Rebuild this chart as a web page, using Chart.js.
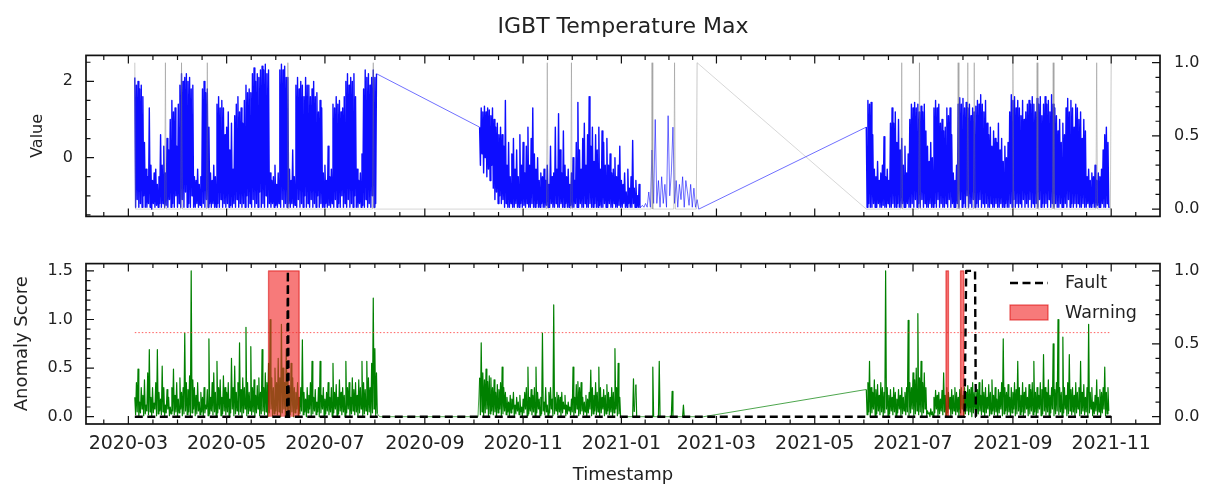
<!DOCTYPE html>
<html><head><meta charset="utf-8">
<script src="https://cdn.jsdelivr.net/npm/chart.js@4/dist/chart.umd.min.js"></script>
<style>
html,body{margin:0;padding:0;background:#fff;}
#wrap{position:relative;width:1205px;height:486px;overflow:hidden;background:#fff;}
canvas{position:absolute;left:0;}
#c1{top:0;} #c2{top:240px;}
</style></head><body>
<div id="wrap"><canvas id="c1" width="1205" height="240"></canvas><canvas id="c2" width="1205" height="246"></canvas></div>
<script>
// ---------------- DATA ----------------
const xTickLabels = ['2020-03','2020-05','2020-07','2020-09','2020-11','2021-01','2021-03','2021-05','2021-07','2021-09','2021-11'];
const valueTicks = [0, 2];
const probTicks = [0, 0.5, 1.0];
const scoreTicks = [0, 0.5, 1.0, 1.5];

// Top panel: blue "Value" series, sampled every half day
const blueStartA = '2020-03-05';
const blueA = [
2.1,-1.3,1.9,-1.1,2.0,-1.3,1.8,-1.2,1.9,-1.3,1.6,-1.0,0.4,-1.3,-0.3,-1.3,-0.5,-1.2,1.3,-1.3,
-0.2,-1.35,-0.6,-1.2,-0.4,-1.3,-0.3,-1.25,-0.7,-1.3,-0.5,-1.2,0.6,-1.3,-0.2,-1.2,0.3,-1.3,-0.4,-1.25,
0.5,-1.3,0.2,-1.1,1.0,-1.3,1.5,-1.2,1.2,-1.3,1.3,-1.0,0.3,-1.3,1.4,-1.2,1.9,-1.3,2.2,-1.1,
2.0,-1.3,2.1,-0.9,2.2,-1.3,2.0,-1.2,2.1,-1.3,1.8,-1.0,1.9,-1.3,-0.5,-1.3,-0.6,-1.2,-0.3,-1.3,
-0.7,-1.25,-0.5,-1.3,1.8,-1.2,2.0,-1.3,1.7,-1.1,1.8,-1.3,0.8,-1.2,-0.4,-1.3,-0.6,-1.2,-0.2,-1.3,
-0.5,-1.3,1.4,-1.2,1.6,-1.3,1.3,-1.1,1.5,-1.3,1.3,-1.2,0.6,-1.3,0.8,-1.2,1.2,-1.3,0.2,-1.25,
0.9,-1.3,-0.3,-1.2,1.1,-1.3,1.4,-1.1,1.6,-1.3,1.2,-1.2,1.3,-1.3,0.9,-1.2,1.5,-1.3,1.9,-1.0,
1.7,-1.3,1.8,-1.2,1.7,-1.3,2.2,-1.1,2.35,-1.3,2.0,-1.2,2.2,-1.3,2.1,-0.9,2.3,-1.3,2.4,-1.2,
2.3,-1.3,2.45,-1.0,2.2,-1.3,2.3,-1.2,-0.4,-1.3,-0.6,-1.2,-0.5,-1.3,-0.2,-1.25,-0.7,-1.3,-0.4,-1.2,
2.3,-1.3,2.45,-1.1,2.3,-1.3,2.4,-1.2,2.1,-1.3,2.1,-1.2,-0.3,-1.3,-0.6,-1.2,0.2,-1.3,-0.5,-1.25,
1.9,-1.3,2.1,-1.1,1.8,-1.3,2.0,-1.2,1.9,-1.3,1.6,-1.0,2.1,-1.3,1.9,-1.2,1.9,-1.3,1.6,-1.1,
1.8,-1.3,2.0,-1.2,1.6,-1.3,1.7,-1.0,1.2,-1.3,1.5,-1.2,1.3,-1.3,-0.4,-1.3,-0.2,-1.2,-0.6,-1.3,
0.3,-1.25,-0.5,-1.3,-0.3,-1.2,1.4,-1.3,1.3,-1.1,1.6,-1.3,1.4,-1.2,1.5,-1.3,1.2,-1.0,1.3,-1.3,
1.6,-1.2,2.0,-1.3,2.2,-1.1,1.9,-1.3,2.1,-1.2,2.0,-1.3,2.2,-1.0,1.6,-1.3,-0.3,-1.3,-0.6,-1.2,
-0.4,-1.3,0.1,-1.25,1.8,-1.3,2.3,-1.1,2.1,-1.3,2.2,-1.2,1.9,-1.3,2.1,-1.0,2.3,-1.3,2.1,-1.2,
2.2];
const blueStartB = '2020-10-05';
const blueB = [
0.8,-0.2,1.3,0.1,1.2,-0.4,1.35,0.0,1.2,-0.5,1.3,-0.3,1.25,-0.6,1.1,-0.2,1.3,-0.8,1.0,-1.1,
0.8,-0.9,0.9,-1.2,0.6,-1.0,0.8,-1.2,0.6,-1.1,0.3,-1.3,1.5,-1.2,-0.2,-1.3,0.4,-1.3,-0.5,-1.2,
0.1,-1.3,0.5,-1.3,-0.3,-1.2,0.2,-1.3,-0.5,-1.3,0.6,-1.2,-0.2,-1.3,0.4,-1.25,-0.4,-1.3,0.3,-1.2,
0.8,-1.3,-0.2,-1.3,0.5,-1.2,1.3,-1.3,0.1,-1.3,-0.3,-1.2,0.0,-1.3,-0.6,-1.3,-0.4,-1.2,-0.5,-1.3,
-0.3,-1.3,-0.6,-1.25,-0.2,-1.3,-0.7,-1.3,0.3,-1.2,-0.5,-1.3,-0.4,-1.3,0.8,-1.2,-0.3,-1.3,1.15,-1.3,
0.2,-1.2,-0.4,-1.3,0.7,-1.3,-0.2,-1.2,-0.5,-1.3,-0.3,-1.3,-0.7,-1.25,-0.4,-1.3,0.0,-1.3,-0.6,-1.2,
0.4,-1.3,1.45,-1.3,0.2,-1.2,-0.3,-1.3,0.5,-1.3,0.9,-1.2,-0.2,-1.3,0.6,-1.3,1.6,-1.2,0.3,-1.3,
0.8,-1.3,-0.1,-1.2,0.6,-1.3,0.2,-1.3,0.8,-1.25,-0.3,-1.3,0.7,-1.3,0.4,-1.2,-0.2,-1.3,0.5,-1.3,
-0.2,-1.2,0.1,-1.3,-0.4,-1.3,-0.3,-1.2,0.0,-1.3,-0.5,-1.3,-0.2,-1.25,0.3,-1.3,-0.6,-1.3,-0.7,-1.2,
-0.4,-1.3,-0.9,-1.3,-0.3,-1.2,-0.8,-1.3,-0.5,-1.3,0.45,-1.2,-0.8,-1.3,-0.6,-1.3,-1.0,-1.3,-0.7,-1.3];
// sparse part at the end of the second block, one sample per day
const blueStartB2 = '2021-01-13';
const blueB2 = [-1.3,-1.25,-1.3,-1.2,-1.3,-0.9,-1.3,0.2,-1.2,1.0,-1.2,-0.6,-1.3,-0.5,-1.2,-0.7,-1.3,1.1,-1.0,-0.4,
0.8,-1.2,-0.6,-1.3,-0.7,-1.1,-0.5,-1.3,-0.6,-0.9,-1.25,-0.7,-1.3,-0.8,-1.3,-1.1,-1.35];
const blueStartC = '2021-06-02';
const blueC = [
0.8,-1.3,1.5,-1.2,1.4,-1.3,1.45,-1.3,0.6,-1.2,-0.3,-1.3,-0.5,-1.3,-0.1,-1.2,-0.6,-1.3,-0.4,-1.3,
-0.2,-1.25,0.55,-1.3,-0.5,-1.3,-0.3,-1.2,-0.6,-1.3,0.9,-1.3,1.3,-1.2,0.9,-1.3,1.2,-1.3,0.4,-1.2,
1.0,-1.3,0.2,-1.3,0.5,-1.2,-0.2,-1.3,0.3,-1.3,-0.4,-1.2,0.1,-1.3,1.0,-1.3,1.4,-1.2,1.3,-1.3,
1.45,-1.1,1.3,-1.3,1.4,-1.2,1.2,-1.3,1.35,-1.1,1.2,-1.3,1.4,-1.2,0.7,-1.3,0.3,-1.3,-0.1,-1.2,
0.4,-1.3,0.0,-1.3,1.3,-1.2,1.5,-1.3,1.3,-1.1,1.4,-1.3,0.9,-1.2,1.0,-1.3,0.7,-1.3,0.8,-1.2,
1.3,-1.3,1.1,-1.1,1.3,-1.3,0.6,-1.2,-0.4,-1.3,-0.6,-1.3,-0.2,-1.2,1.4,-1.3,1.57,-1.1,1.4,-1.3,
1.55,-1.2,1.3,-1.3,1.45,-1.0,1.3,-1.3,1.4,-1.2,1.1,-1.3,1.3,-1.1,1.2,-1.3,1.35,-1.2,1.5,-1.3,
1.4,-1.1,1.65,-1.3,1.4,-1.2,1.2,-1.3,1.5,-1.2,0.9,-1.3,0.6,-1.3,0.8,-1.2,0.3,-1.3,0.7,-1.3,
0.5,-1.2,0.4,-1.3,0.9,-1.3,0.2,-1.2,0.5,-1.3,-0.1,-1.3,0.3,-1.2,0.0,-1.3,0.4,-1.3,1.2,-1.2,
1.65,-1.3,1.5,-1.1,1.6,-1.3,1.3,-1.2,1.5,-1.3,1.3,-1.2,1.1,-1.3,1.5,-1.1,1.0,-1.3,1.2,-1.2,
1.4,-1.3,1.5,-1.1,1.4,-1.3,1.6,-1.2,1.4,-1.3,1.2,-1.2,1.55,-1.3,1.4,-1.1,1.6,-1.3,1.1,-1.2,
1.4,-1.3,1.6,-1.2,1.4,-1.3,1.5,-1.1,1.2,-1.3,1.65,-1.2,1.4,-1.3,1.3,-1.2,1.1,-1.3,0.7,-1.3,
1.0,-1.2,0.4,-1.3,0.9,-1.3,0.6,-1.2,1.3,-1.3,1.55,-1.1,1.2,-1.3,1.5,-1.2,1.3,-1.3,0.8,-1.2,
1.4,-1.3,1.3,-1.2,1.0,-1.3,1.2,-1.3,0.5,-1.2,1.0,-1.3,0.7,-1.3,-0.5,-1.2,-0.3,-1.3,-0.6,-1.3,
-0.4,-1.2,-0.5,-1.3,-0.2,-1.3,-0.6,-1.25,-0.4,-1.3,-0.5,-1.3,-0.3,-1.2,0.2,-1.3,0.6,-1.3,0.8,-1.2,
0.4,-1.3,-1.3];

// Top panel, right axis: grey label series (0 / 1)
const grayDates = ['2020-03-05','2020-03-05T12','2020-03-23T12','2020-03-24','2020-03-24T12','2020-04-02T12','2020-04-03','2020-04-03T12',
'2020-04-18T12','2020-04-19','2020-04-19T12','2020-06-07T12','2020-06-08','2020-06-08T12','2020-07-30T12','2020-07-31','2020-07-31T12',
'2020-11-15T12','2020-11-16','2020-11-16T12','2020-11-30T12','2020-12-01','2020-12-01T12','2021-01-19T12','2021-01-20','2021-01-20T12',
'2021-02-02T12','2021-02-03','2021-02-03T12','2021-02-16T12','2021-02-17','2021-06-02','2021-06-23T12','2021-06-24','2021-06-24T12',
'2021-07-04T12','2021-07-05','2021-07-05T12','2021-07-28T12','2021-07-29','2021-07-29T12','2021-08-03T12','2021-08-04','2021-08-04T12',
'2021-08-07T12','2021-08-08','2021-08-08T12','2021-08-31T12','2021-09-01','2021-09-01T12','2021-09-15T12','2021-09-16','2021-09-16T12',
'2021-09-25T12','2021-09-26','2021-09-26T12','2021-10-22T12','2021-10-23','2021-10-23T12','2021-10-31T12','2021-11-01'];
const grayValues = [1,0, 0,1,0, 0,1,0, 0,1,0, 0,1,0, 0,1,0,
0,1,0, 0,1,0, 0,1,0, 0,1,0, 0,1, 0, 0,1,0,
0,1,0, 0,1,0, 0,1,0, 0,1,0, 0,1,0, 0,1,0, 0,1,0, 0,1,0, 0,1];

// Bottom panel: green anomaly score, sampled every half day
const greenStartA = '2020-03-05';
const greenA = [
0.2,0.02,0.35,0.05,0.49,0.0,0.15,0.04,0.3,0.08,0.22,0.01,0.38,0.03,0.12,0.06,0.45,0.02,0.69,0.05,
0.2,0.0,0.3,0.04,0.14,0.08,0.35,0.01,0.69,0.03,0.25,0.06,0.18,0.02,0.52,0.05,0.3,0.0,0.12,0.04,
0.28,0.08,0.2,0.01,0.1,0.03,0.3,0.06,0.49,0.02,0.22,0.05,0.35,0.0,0.18,0.04,0.4,0.08,0.25,0.01,
0.3,0.03,0.86,0.06,0.35,0.02,0.28,0.05,0.42,0.0,1.5,0.04,0.38,0.08,0.3,0.01,0.22,0.03,0.35,0.06,
0.15,0.02,0.25,0.05,0.2,0.0,0.3,0.04,0.12,0.08,0.28,0.01,0.8,0.03,0.2,0.06,0.35,0.02,0.45,0.05,
0.25,0.0,0.57,0.04,0.3,0.08,0.38,0.01,0.2,0.03,0.42,0.06,0.3,0.02,0.25,0.05,0.35,0.0,0.18,0.04,
0.6,0.08,0.3,0.01,0.52,0.03,0.25,0.06,0.35,0.02,0.76,0.05,0.28,0.0,0.4,0.04,0.3,0.08,0.92,0.01,
0.35,0.03,0.25,0.06,0.72,0.02,0.3,0.05,0.38,0.0,0.22,0.04,0.32,0.08,0.4,0.01,0.25,0.03,0.69,0.06,
0.3,0.02,0.45,0.05,0.35,0.0,0.55,0.04,1.0,0.08,0.4,0.01,0.3,0.03,0.5,0.06,0.35,0.02,0.6,0.05,
0.4,0.0,0.95,0.04,0.5,0.08,0.35,0.01,0.7,0.03,0.45,0.06,0.3,0.02,0.55,0.05,0.4,0.0,0.3,0.04,
0.25,0.08,0.35,0.01,0.2,0.03,0.3,0.06,0.79,0.02,0.25,0.05,0.18,0.0,0.3,0.04,0.22,0.08,0.35,0.01,
0.57,0.03,0.2,0.06,0.28,0.02,0.15,0.05,0.3,0.0,0.57,0.04,0.22,0.08,0.3,0.01,0.18,0.03,0.25,0.06,
0.35,0.02,0.2,0.05,0.3,0.0,0.55,0.04,0.25,0.08,0.33,0.01,0.2,0.03,0.38,0.06,0.25,0.02,0.3,0.05,
0.22,0.0,0.57,0.04,0.3,0.08,0.35,0.01,0.2,0.03,0.4,0.06,0.28,0.02,0.35,0.05,0.22,0.0,0.38,0.04,
0.3,0.08,0.57,0.01,0.35,0.03,0.28,0.06,0.57,0.02,0.4,0.05,0.3,0.0,0.55,0.04,1.22,0.08,0.7,0.01,
0.45,0.03];
const greenGapDates = ['2020-08-04','2020-10-04'];
const greenGapValues = [0, 0];
const greenStartB = '2020-10-05';
const greenB = [
0.4,0.02,0.76,0.05,0.45,0.0,0.38,0.04,0.49,0.08,0.36,0.01,0.42,0.03,0.4,0.06,0.3,0.02,0.38,0.05,
0.25,0.0,0.33,0.04,0.28,0.08,0.35,0.01,0.51,0.03,0.3,0.06,0.25,0.02,0.2,0.05,0.15,0.0,0.22,0.04,
0.18,0.08,0.25,0.01,0.12,0.03,0.2,0.06,0.15,0.02,0.22,0.05,0.1,0.0,0.18,0.04,0.25,0.08,0.3,0.01,
0.51,0.03,0.2,0.06,0.28,0.02,0.22,0.05,0.3,0.0,0.51,0.04,0.25,0.08,0.18,0.01,0.2,0.03,0.86,0.06,
0.15,0.02,0.3,0.05,0.12,0.0,0.25,0.04,0.3,0.08,0.18,0.01,1.15,0.03,0.2,0.06,0.25,0.02,0.22,0.05,
0.2,0.0,0.25,0.04,0.15,0.08,0.22,0.01,0.12,0.03,0.15,0.06,0.1,0.02,0.18,0.05,0.51,0.0,0.2,0.04,
0.33,0.08,0.36,0.01,0.3,0.03,0.35,0.06,0.2,0.02,0.15,0.05,0.22,0.0,0.18,0.04,0.25,0.08,0.48,0.01,
0.3,0.03,0.22,0.06,0.35,0.02,0.25,0.05,0.51,0.0,0.3,0.04,0.2,0.08,0.28,0.01,0.22,0.03,0.33,0.06,
0.25,0.02,0.2,0.05,0.3,0.0,0.25,0.04,0.7,0.08,0.3,0.01,0.55,0.03,0.2,0.0];
const greenSparseDates = ['2021-01-01','2021-01-08','2021-01-08T12','2021-01-09','2021-01-10','2021-01-10T12','2021-01-20','2021-01-20T12','2021-01-21',
'2021-01-24','2021-01-24T12','2021-01-25','2021-02-01','2021-02-01T12','2021-02-02','2021-02-08','2021-02-08T12','2021-02-09','2021-02-21'];
const greenSparseValues = [0,0,0.39,0.05,0.33,0,0,0.51,0,0,0.57,0,0,0.26,0,0,0.12,0,0];
const greenStartC = '2021-06-02';
const greenC = [
0.28,0.02,0.35,0.05,0.57,0.0,0.3,0.04,0.25,0.08,0.38,0.01,0.28,0.03,0.33,0.06,0.22,0.02,0.35,0.05,
0.3,0.0,0.25,0.04,1.5,0.08,0.3,0.01,0.22,0.03,0.28,0.06,0.2,0.02,0.3,0.05,0.25,0.0,0.18,0.04,
0.28,0.08,0.22,0.01,0.3,0.03,0.2,0.06,0.25,0.02,0.3,0.05,0.99,0.0,0.35,0.04,0.3,0.08,0.45,0.01,
0.38,0.03,0.5,0.06,1.06,0.02,0.4,0.05,0.57,0.0,0.35,0.04,0.45,0.08,0.3,0.01,0.06,0.03,0.04,0.0,
0.08,0.02,0.05,0.0,0.2,0.04,0.27,0.08,0.22,0.01,0.25,0.03,0.18,0.06,0.27,0.02,0.45,0.05,0.22,0.0,
0.3,0.04,0.25,0.08,0.2,0.01,0.28,0.03,0.22,0.06,0.3,0.02,0.25,0.05,0.2,0.0,0.28,0.04,0.3,0.08,
0.22,0.01,0.3,0.03,0.25,0.06,0.32,0.02,0.28,0.05,0.3,0.0,0.35,0.04,0.25,0.08,0.3,0.01,0.28,0.03,
0.35,0.06,0.22,0.02,0.38,0.05,0.25,0.0,0.3,0.04,0.2,0.08,0.33,0.01,0.25,0.03,0.38,0.06,0.22,0.02,
0.3,0.05,0.18,0.0,0.28,0.04,0.25,0.08,0.35,0.01,0.8,0.03,0.3,0.06,0.25,0.02,0.33,0.05,0.2,0.0,
0.3,0.04,0.25,0.08,0.35,0.01,0.28,0.03,0.57,0.06,0.3,0.02,0.22,0.05,0.35,0.0,0.25,0.04,0.3,0.08,
0.2,0.01,0.33,0.03,0.28,0.06,0.35,0.02,0.57,0.05,0.25,0.0,0.3,0.04,0.22,0.08,0.35,0.01,0.28,0.03,
0.64,0.06,0.3,0.02,0.25,0.05,0.38,0.0,0.22,0.04,0.3,0.08,0.75,0.01,0.28,0.03,0.35,0.06,1.0,0.02,
0.3,0.05,0.25,0.0,0.82,0.04,0.3,0.08,0.22,0.01,0.35,0.03,0.64,0.06,0.28,0.02,0.3,0.05,0.22,0.0,
0.35,0.04,0.25,0.08,0.3,0.01,0.57,0.03,0.25,0.06,0.33,0.02,0.2,0.05,0.3,0.0,0.95,0.04,0.25,0.08,
0.3,0.01,0.15,0.03,0.22,0.06,0.38,0.02,0.2,0.05,0.28,0.0,0.25,0.04,0.3,0.08,0.51,0.01,0.25,0.03,
0.3,0.06];

const thresholdDates = ['2020-03-05','2021-11-01'];
const thresholdValues = [0.865, 0.865];

const faultDates = ['2020-03-05','2020-06-07T12','2020-06-08','2020-06-08T12','2021-08-02','2021-08-03','2021-08-08T12','2021-08-09','2021-11-01'];
const faultValues = [0,0,1,0,0,1,1,0,0];

const warnDates = ['2020-03-05','2020-05-27','2020-05-27','2020-06-15','2020-06-15','2021-07-21T12','2021-07-21T12','2021-07-23','2021-07-23',
'2021-07-30T12','2021-07-30T12','2021-08-01T12','2021-08-01T12','2021-11-01'];
const warnValues = [0,0,1,1,0,0,1,1,0,0,1,1,0,0];

// ---------------- BUILD ----------------
const DAY = 86400000;
function toMs(s){ const p = s.split('T'); const d = p[0].split('-').map(Number); const h = p[1] ? Number(p[1]) : 0; return Date.UTC(d[0], d[1]-1, d[2], h); }
function sampled(start, stepDays, vals){ const t0 = toMs(start); return vals.map((v,i)=>({x: t0 + i*stepDays*DAY, y: v})); }
function dated(dates, vals){ return dates.map((d,i)=>({x: toMs(d), y: vals[i]})); }

const xMajorValues = xTickLabels.map(l => toMs(l + '-01'));
const X_MIN = toMs('2020-02-03T17'), X_MAX = toMs('2021-12-01T07');

const bluePts = [].concat(sampled(blueStartA,0.5,blueA), sampled(blueStartB,0.5,blueB), sampled(blueStartB2,1,blueB2), sampled(blueStartC,0.5,blueC));
const grayPts = dated(grayDates, grayValues);
const greenPts = [].concat(sampled(greenStartA,0.5,greenA), dated(greenGapDates,greenGapValues), sampled(greenStartB,0.5,greenB),
  dated(greenSparseDates,greenSparseValues), sampled(greenStartC,0.5,greenC));

Chart.defaults.font.family = "'DejaVu Sans', sans-serif";
Chart.defaults.color = '#222';

const TXT = '#222';
// sparse stretches and gap connectors are drawn thin, densely sampled parts thicker
const gapWidth = (thin, thick) => c => (c.p1.parsed.x - c.p0.parsed.x > 0.75 * DAY) ? thin : thick;

const frameTicks = {
  id: 'frameTicks',
  afterDatasetsDraw(chart, args, o) {
    const {ctx, chartArea: a, scales} = chart;
    const xs = scales.x;
    const MAJ = 8, MIN = 4.5;
    ctx.save();
    ctx.strokeStyle = '#111';
    ctx.lineWidth = 1.2;
    ctx.beginPath();
    const vt = (v, len) => { const px = xs.getPixelForValue(v); ctx.moveTo(px, a.bottom); ctx.lineTo(px, a.bottom - len); ctx.moveTo(px, a.top); ctx.lineTo(px, a.top + len); };
    const m = xMajorValues;
    m.forEach(v => vt(v, MAJ));
    for (let i = -1; i < m.length; i++) {
      let a0, a1;
      if (i < 0) { a1 = m[0]; a0 = m[0] - (m[1] - m[0]); }
      else if (i === m.length - 1) { a0 = m[i]; a1 = m[i] + (m[i] - m[i-1]); }
      else { a0 = m[i]; a1 = m[i+1]; }
      for (let k = 1; k < 4; k++) { const v = a0 + (a1 - a0) * k / 4; if (v > xs.min && v < xs.max) vt(v, MIN); }
    }
    const yt = (scale, majors, step, side) => {
      const x0 = side === 'left' ? a.left : a.right, dir = side === 'left' ? 1 : -1;
      majors.forEach(v => { const py = scale.getPixelForValue(v); ctx.moveTo(x0, py); ctx.lineTo(x0 + dir*MAJ, py); });
      for (let k = Math.ceil(scale.min/step - 1e-9); k*step <= scale.max + 1e-9; k++) {
        const v = k*step;
        if (majors.some(mm => Math.abs(mm - v) < 1e-6)) continue;
        const py = scale.getPixelForValue(v); ctx.moveTo(x0, py); ctx.lineTo(x0 + dir*MIN, py);
      }
    };
    yt(scales.y, o.leftMajors, o.leftMinor, 'left');
    yt(scales.y2, o.rightMajors, o.rightMinor, 'right');
    ctx.stroke();
    ctx.lineWidth = 1.7;
    ctx.strokeStyle = '#111';
    ctx.strokeRect(a.left, a.top, a.right - a.left, a.bottom - a.top);
    if (o.legend) {
      const ds = chart.data.datasets;
      const fault = ds.find(d => d.id === 'fault'), warn = ds.find(d => d.id === 'warn');
      ctx.font = "17.5px 'DejaVu Sans'";
      ctx.textBaseline = 'middle'; ctx.textAlign = 'left'; ctx.fillStyle = TXT;
      ctx.beginPath(); ctx.setLineDash(fault.borderDash); ctx.strokeStyle = fault.borderColor; ctx.lineWidth = fault.borderWidth;
      ctx.moveTo(1010, 43); ctx.lineTo(1048, 43); ctx.stroke(); ctx.setLineDash([]);
      ctx.fillText(fault.label, 1065, 43);
      ctx.fillStyle = warn.backgroundColor; ctx.fillRect(1010, 65, 38, 15);
      ctx.strokeStyle = 'rgba(220,0,0,0.6)'; ctx.lineWidth = 1.2; ctx.strokeRect(1010, 65, 38, 15);
      ctx.fillStyle = TXT; ctx.fillText(warn.label, 1065, 73);
    }
    ctx.restore();
  }
};

function xAxis(showLabels, h) {
  return {
    type: 'linear', position: 'bottom', min: X_MIN, max: X_MAX,
    grid: {display: false, drawTicks: false}, border: {display: false},
    afterBuildTicks: s => { s.ticks = xMajorValues.map(v => ({value: v})); },
    afterFit: s => { s.height = h; },
    ticks: {display: showLabels, autoSkip: false, maxRotation: 0, minRotation: 0, padding: 9, color: TXT,
      font: {size: 19}, callback: (v, i) => xTickLabels[i]},
    title: {display: showLabels, text: 'Timestamp', color: TXT, font: {size: 18}, padding: {top: 0, bottom: 0}}
  };
}
function yAxis(pos, min, max, majors, fmt, width, pad, title, titlePad, titleSize) {
  return {
    type: 'linear', position: pos, min: min, max: max,
    grid: {display: false, drawTicks: false}, border: {display: false},
    afterBuildTicks: s => { s.ticks = majors.map(v => ({value: v})); },
    afterFit: s => { s.width = width; },
    ticks: {padding: pad, color: TXT, font: {size: 16}, callback: fmt},
    title: title ? {display: true, text: title, color: TXT, font: {size: titleSize}, padding: {top: titlePad, bottom: 0}} : {display: false}
  };
}

const common = {responsive: false, animation: false, devicePixelRatio: 1, events: [],
  elements: {point: {radius: 0}, line: {tension: 0, borderJoinStyle: 'round', borderCapStyle: 'butt'}}};

new Chart(document.getElementById('c1'), {
  type: 'line',
  data: {datasets: [
    {label: 'Label', data: grayPts, yAxisID: 'y2', borderColor: 'rgba(120,120,120,0.5)', borderWidth: 0.8, order: 0,
      segment: {borderWidth: gapWidth(0.6, 0.8)}},
    {label: 'Value', data: bluePts, yAxisID: 'y', borderColor: 'rgba(0,0,255,0.95)', borderWidth: 1.4, order: 1,
      segment: {borderWidth: gapWidth(0.6, 1.4)}}
  ]},
  options: Object.assign({}, common, {
    layout: {padding: 0},
    scales: {
      x: xAxis(false, 17.5),
      y: yAxis('left', -1.54, 2.68, valueTicks, v => String(v), 86, 13, 'Value', 28.4, 16),
      y2: yAxis('right', -0.05, 1.05, probTicks, v => v.toFixed(1), 45, 14, null, 0, 16)
    },
    plugins: {
      legend: {display: false}, tooltip: {enabled: false},
      title: {display: true, text: 'IGBT Temperature Max', color: TXT, font: {size: 22, weight: 'normal'}, padding: {top: 14, bottom: 15}, fullSize: false},
      frameTicks: {leftMajors: valueTicks, leftMinor: 0.5, rightMajors: probTicks, rightMinor: 0.1}
    }
  }),
  plugins: [frameTicks]
});

new Chart(document.getElementById('c2'), {
  type: 'line',
  data: {datasets: [
    {id: 'fault', label: 'Fault', data: dated(faultDates, faultValues), yAxisID: 'y2', borderColor: '#000', borderWidth: 2.4, borderDash: [8, 4.5], order: 0},
    {id: 'warn', label: 'Warning', data: dated(warnDates, warnValues), yAxisID: 'y2', fill: 'origin', backgroundColor: 'rgba(242,40,40,0.62)',
      borderWidth: 1.3, borderColor: 'rgba(220,0,0,0.6)',
      segment: {borderColor: c => (c.p0.parsed.y === 0 && c.p1.parsed.y === 0) ? 'rgba(0,0,0,0)' : 'rgba(220,0,0,0.6)'}, order: 1},
    {label: 'Threshold', data: dated(thresholdDates, thresholdValues), yAxisID: 'y', borderColor: 'rgba(255,40,40,0.75)', borderWidth: 1, borderDash: [1.5, 2], order: 2},
    {label: 'Anomaly Score', data: greenPts, yAxisID: 'y', borderColor: 'rgb(0,128,0)', borderWidth: 1.2, order: 3,
      segment: {borderWidth: gapWidth(0.7, 1.2)}}
  ]},
  options: Object.assign({}, common, {
    layout: {padding: {top: 17}},
    scales: {
      x: xAxis(true, 62),
      y: yAxis('left', -0.075, 1.575, scoreTicks, v => v.toFixed(1), 86, 13, 'Anomaly Score', 11.2, 18),
      y2: yAxis('right', -0.05, 1.05, probTicks, v => v.toFixed(1), 45, 14, null, 0, 16)
    },
    plugins: {
      legend: {display: false}, tooltip: {enabled: false},
      frameTicks: {leftMajors: scoreTicks, leftMinor: 0.1, rightMajors: probTicks, rightMinor: 0.1, legend: true}
    }
  }),
  plugins: [frameTicks]
});
</script>
</body></html>
